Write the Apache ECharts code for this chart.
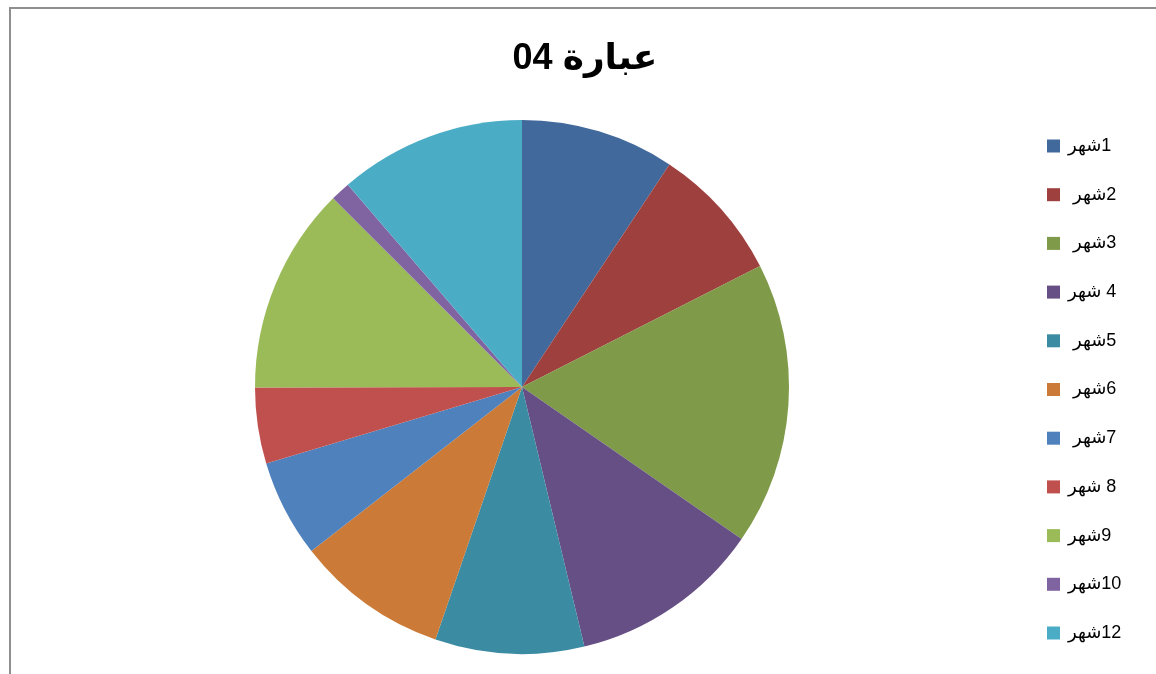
<!DOCTYPE html>
<html>
<head>
<meta charset="utf-8">
<style>
  html, body { margin: 0; padding: 0; background: #fff; }
  #frame {
    position: absolute; left: 9px; top: 7px; width: 1147px; height: 667px;
    border-top: 2px solid #8f8f8f; border-left: 2px solid #8f8f8f;
    box-sizing: border-box;
  }
  #chart { position: absolute; left: 0; top: 0; width: 1156px; height: 674px; }
</style>
<script src="https://cdn.jsdelivr.net/npm/echarts@6/dist/echarts.min.js"></script>
</head>
<body>
<div id="frame"></div>
<div id="chart"></div>
<script>
// chart values (share of each month, clockwise from 12 o'clock)
const chartTitle = 'عبارة 04';
const months = ['1شهر', '2شهر ', '3شهر ', '4 شهر', '5شهر ', '6شهر ', '7شهر ', '8 شهر', '9شهر', '10شهر', '12شهر'];
const values = [9.3, 8.2, 17.1, 11.6, 9.0, 9.2, 5.9, 4.6, 12.5, 1.2, 11.3];
const colors = ['#41699b', '#9e403d', '#7f9a48', '#664f85', '#3b8ca3', '#cb7b37',
                '#4f81bd', '#c0504d', '#9bbb59', '#8064a2', '#4bacc6'];

const RLM = '\u200F';
const font = '"Liberation Sans", "DejaVu Sans", sans-serif';

const chart = echarts.init(document.getElementById('chart'));

chart.setOption({
  animation: false,
  color: colors,
  title: {
    text: chartTitle,
    left: 580,
    textAlign: 'center',
    top: 36,
    textStyle: { fontSize: 36, fontWeight: 'bold', color: '#000', fontFamily: font }
  },
  legend: {
    orient: 'vertical',
    left: 1047,
    top: 137,
    padding: 0,
    itemWidth: 13,
    itemHeight: 13,
    itemGap: 30.7,
    icon: 'rect',
    formatter: name => RLM + name + RLM,
    textStyle: { fontSize: 18, color: '#000', fontFamily: font, lineHeight: 14, padding: [0, 0, 0, 3] },
    data: months
  },
  series: [{
    type: 'pie',
    center: [522, 387],
    radius: 267,
    startAngle: 90,
    clockwise: true,
    label: { show: false },
    labelLine: { show: false },
    emphasis: { disabled: true },
    itemStyle: { borderWidth: 0 },
    data: months.map((m, i) => ({ name: m, value: values[i] }))
  }]
});
</script>
</body>
</html>
